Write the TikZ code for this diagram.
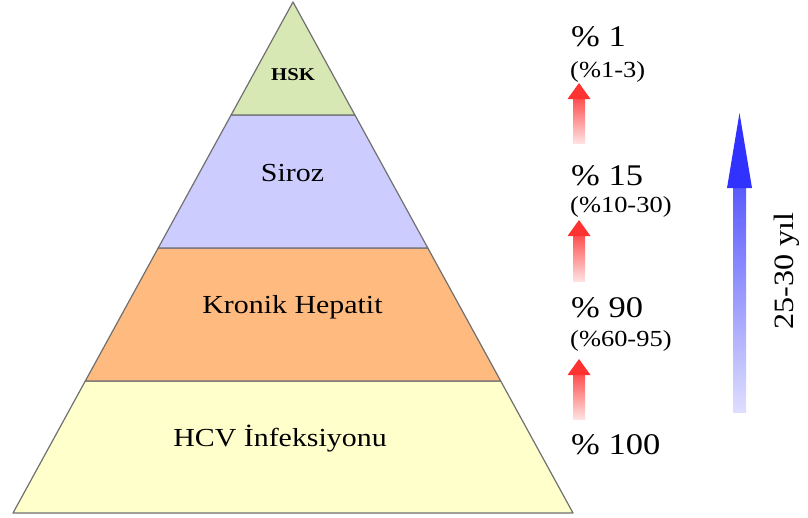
\documentclass[tikz,border=0pt]{standalone}
\usepackage{fontspec}
\setmainfont{Liberation Serif}[FakeStretch=1.15]
\definecolor{hskc}{RGB}{216,232,180}
\definecolor{sirc}{RGB}{204,204,255}
\definecolor{kroc}{RGB}{255,187,127}
\definecolor{hcvc}{RGB}{255,255,204}
\definecolor{edgec}{RGB}{112,112,112}
\definecolor{redtop}{RGB}{255,50,50}
\definecolor{redbot}{RGB}{255,225,225}
\definecolor{bluetop}{RGB}{50,50,255}
\definecolor{bluebot}{RGB}{222,222,255}
\begin{document}
\begin{tikzpicture}[x=1pt,y=-1pt,
  tier/.style={draw=edgec,line width=1.2pt,line join=round},
  big/.style={font=\fontsize{30}{34}\selectfont,inner sep=0pt,anchor=base west},
  small/.style={font=\fontsize{23}{26}\selectfont,inner sep=0pt,anchor=base west},
  lvl/.style={font=\fontsize{26}{30}\selectfont,inner sep=0pt,anchor=base}]
\useasboundingbox (0,0) rectangle (808,517);
% pyramid corners
\coordinate (apex) at (293,2);
\coordinate (l1) at (231.1,115); \coordinate (r1) at (354.9,115);
\coordinate (l2) at (158.2,248); \coordinate (r2) at (427.8,248);
\coordinate (l3) at (85.3,381);  \coordinate (r3) at (500.7,381);
\coordinate (bl) at (13,513);    \coordinate (br) at (573,513);
% tiers
\draw[tier,fill=hcvc] (l3) -- (r3) -- (br) -- (bl) -- cycle;
\draw[tier,fill=kroc] (l2) -- (r2) -- (r3) -- (l3) -- cycle;
\draw[tier,fill=sirc] (l1) -- (r1) -- (r2) -- (l2) -- cycle;
\draw[tier,fill=hskc] (apex) -- (r1) -- (l1) -- cycle;
% tier labels
\node[font=\bfseries\fontsize{18}{20}\selectfont,inner sep=0pt,anchor=base] (hsk) at (293,80) {HSK};
\node[lvl] (siroz) at (292.5,181) {Siroz};
\node[lvl] (kronik) at (292.5,313) {Kronik Hepatit};
\node[lvl] (hcv) at (280,446) {HCV İnfeksiyonu};
% percentages
\node[big] (p1) at (571,46) {\% 1};
\node[small] (r1t) at (570,77) {(\%1-3)};
\node[big] (p15) at (571,185) {\% 15};
\node[small] (r15t) at (570,212) {(\%10-30)};
\node[big] (p90) at (571,317) {\% 90};
\node[small] (r90t) at (570,346) {(\%60-95)};
\node[big] (p100) at (571,454) {\% 100};
% red arrows
\foreach \t/\b in {83/143,220/281,359/419}{
  \shade[top color=redtop!85,bottom color=redbot] (573,\t+16) rectangle (585,\b);
  \fill[redtop] (579,\t) -- (590.5,\t+16) -- (567.5,\t+16) -- cycle;
}
% blue arrow
\shade[top color=bluetop!80,bottom color=bluebot] (733,188) rectangle (746,412);
\fill[bluetop] (739.5,113) -- (752,188) -- (727,188) -- cycle;
\node[font=\fontsize{28}{32}\selectfont,inner sep=0pt,rotate=90] (yil) at (787,271) {25-30 yıl};
\end{tikzpicture}
\end{document}
